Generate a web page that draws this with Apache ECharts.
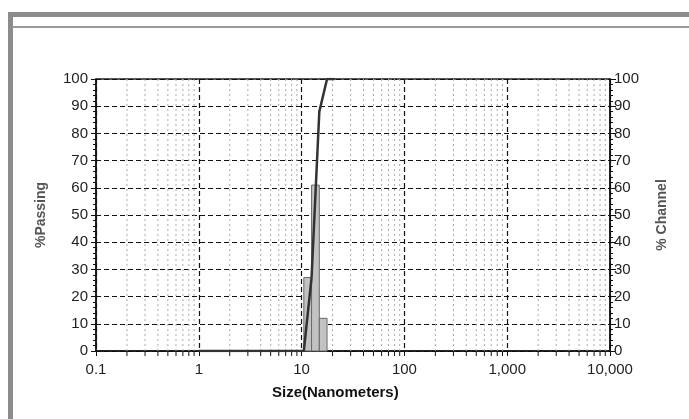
<!DOCTYPE html>
<html><head><meta charset="utf-8">
<script src="https://cdn.jsdelivr.net/npm/echarts@6/dist/echarts.min.js"></script>
<style>html,body{margin:0;padding:0;background:#fff}#c{width:689px;height:419px}</style>
</head><body><div id="c"></div>
<script>
// Data
const binLower = [10.51, 12.5, 14.87];
const binUpper = [12.5, 14.87, 17.68];
const channelPct = [27, 61, 12];
const cumSizes = [1, 10.51, 12.5, 14.87, 17.68, 21.02];
const cumPassing = [0, 0, 27, 88, 100, 100];
const minorX = [];
[0.1,1,10,100,1000].forEach(d=>{for(let k=2;k<=9;k++)minorX.push(+(d*k).toPrecision(3));});

const chart = echarts.init(document.getElementById('c'));
const font = 'Liberation Sans, Arial, sans-serif';
const opt = {
  animation:false,
  backgroundColor:'#fff',
  grid:{left:96,right:79,top:79,bottom:68,show:true,borderColor:'#222',borderWidth:1.5,backgroundColor:'transparent'},
  graphic:[
    {type:'rect',shape:{x:8,y:12,width:681,height:5},style:{fill:'#8c8c8c'},z:-1},
    {type:'rect',shape:{x:8,y:12,width:5,height:407},style:{fill:'#8c8c8c'},z:-1},
    {type:'rect',shape:{x:12,y:26,width:677,height:2},style:{fill:'#9a9a9a'},z:-1},
    {type:'text',left:272,top:385,style:{text:'Size(Nanometers)',font:'bold 15px '+font,fill:'#111'}}
  ],
  xAxis:{type:'log',logBase:10,min:0.1,max:10000,
    axisLine:{lineStyle:{color:'#111',width:1.5}},
    axisTick:{show:true,length:5,lineStyle:{color:'#111'}},
    axisLabel:{color:'#222',fontSize:15,fontFamily:font,margin:11,
      formatter:v=>v<1?String(+v.toPrecision(2)):Math.round(v).toLocaleString('en-US')},
    splitLine:{show:true,lineStyle:{color:'#111',type:[5,3],width:1.2}}
  },
  yAxis:[
    {type:'value',min:0,max:100,interval:10,
      name:'%Passing',nameLocation:'middle',nameGap:48,nameRotate:90,
      nameTextStyle:{fontSize:14,fontWeight:'bold',color:'#555',fontFamily:font},
      axisLine:{show:true,lineStyle:{color:'#111',width:1.5}},
      axisTick:{show:true,length:5,lineStyle:{color:'#111'}},
      minorTick:{show:true,splitNumber:5,length:3,lineStyle:{color:'#111'}},
      axisLabel:{color:'#222',fontSize:15,fontFamily:font,margin:8},
      splitLine:{show:true,lineStyle:{color:'#111',type:[5,3],width:1.2}}
    },
    {type:'value',min:0,max:100,interval:10,position:'right',
      name:'% Channel',nameLocation:'middle',nameGap:45,nameRotate:90,
      nameTextStyle:{fontSize:14,fontWeight:'bold',color:'#555',fontFamily:font},
      axisLine:{show:true,lineStyle:{color:'#111',width:1.5}},
      axisTick:{show:true,length:6,lineStyle:{color:'#111'}},
      minorTick:{show:true,splitNumber:5,length:3,lineStyle:{color:'#111'}},
      axisLabel:{color:'#222',fontSize:15,fontFamily:font,margin:4},
      splitLine:{show:false}
    }
  ],
  series:[
    {type:'custom',name:'minor',yAxisIndex:0,clip:false,silent:true,z:1,
      data:minorX.map(v=>[v]),
      renderItem:(params,api)=>{
        const top=api.coord([api.value(0),100]);
        const bot=api.coord([api.value(0),0]);
        return {type:'group',children:[
          {type:'line',shape:{x1:top[0],y1:top[1],x2:bot[0],y2:bot[1]},style:{stroke:'#aaa',lineWidth:1,lineDash:[2,3]}},
          {type:'line',shape:{x1:bot[0],y1:bot[1],x2:bot[0],y2:bot[1]+5},style:{stroke:'#111',lineWidth:1}}
        ]};
      }
    },
    {type:'custom',name:'channel',yAxisIndex:1,z:3,
      data:binLower.map((lo,i)=>[lo,binUpper[i],channelPct[i]]),
      renderItem:(params,api)=>{
        const p0=api.coord([api.value(0),0]);
        const p1=api.coord([api.value(1),api.value(2)]);
        return {type:'rect',shape:{x:p0[0],y:p1[1],width:p1[0]-p0[0],height:p0[1]-p1[1]},
          style:{fill:'#c2c2c2',stroke:'#6a6a6a',lineWidth:1}};
      }
    },
    {type:'line',name:'passing',yAxisIndex:0,z:4,symbol:'none',
      data:cumSizes.map((s,i)=>[s,cumPassing[i]]),
      lineStyle:{color:'#333',width:2.5}
    }
  ]
};
chart.setOption(opt);
</script></body></html>
